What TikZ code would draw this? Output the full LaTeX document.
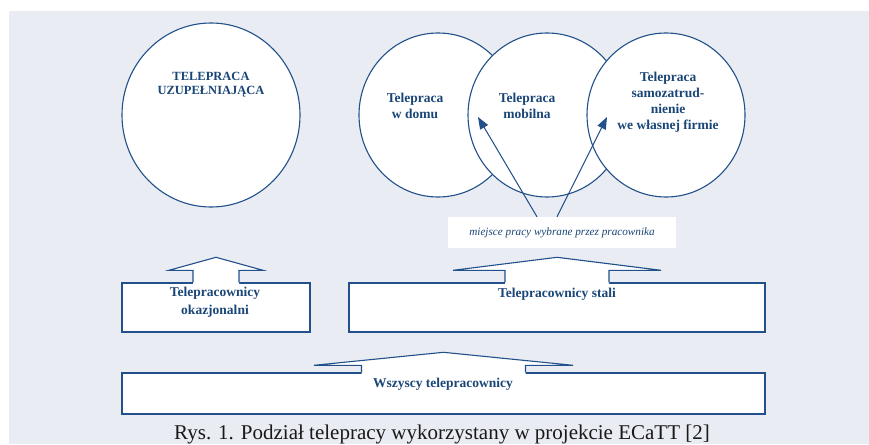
\documentclass[tikz,border=0pt]{standalone}
\usepackage{fontspec}
\setmainfont{Liberation Serif}
\usetikzlibrary{shapes.geometric,arrows.meta,calc}
\definecolor{bg}{HTML}{E9ECF2}
\definecolor{ln}{HTML}{21508A}
\definecolor{tx}{HTML}{1A4677}
\tikzset{
  circ/.style={ellipse, draw=ln, line width=1.1pt, fill=white, inner sep=0pt},
  btxt/.style={text=tx, font=\fontsize{13.5}{16}\selectfont\bfseries, align=center, inner sep=0pt},
  box/.style={draw=ln, line width=1.4pt, fill=white, inner sep=0pt},
  arrline/.style={draw=ln, line width=1.1pt, line join=miter},
  ptr/.style={draw=ln, line width=1pt, -{Triangle[length=12pt,width=9pt]}, fill=ln},
}
\newcommand\blkarrow[5]{%
  \fill[white] ($(#1.north)+(-#2,1.5)$) -- ($(#1.north)+(-#2,-#5)$) -- ($(#1.north)+(-#3,-#5)$)
    -- ($(#1.north)+(0,-#4)$) -- ($(#1.north)+(#3,-#5)$) -- ($(#1.north)+(#2,-#5)$)
    -- ($(#1.north)+(#2,1.5)$) -- cycle;
  \draw[arrline] ($(#1.north)+(-#2,0)$) -- ($(#1.north)+(-#2,-#5)$) -- ($(#1.north)+(-#3,-#5)$)
    -- ($(#1.north)+(0,-#4)$) -- ($(#1.north)+(#3,-#5)$) -- ($(#1.north)+(#2,-#5)$)
    -- ($(#1.north)+(#2,0)$);}
\begin{document}
\begin{tikzpicture}[x=1pt,y=-1pt]
\useasboundingbox (0,0) rectangle (869,444);
\fill[bg] (9,11) rectangle (869,444);

% circles
\node[circ, minimum width=178pt, minimum height=184pt] (c0) at (211,115) {};
\node[circ, minimum width=158pt, minimum height=164pt] (c1) at (438,115) {};
\node[circ, minimum width=158pt, minimum height=164pt] (c2) at (547,115) {};
\node[circ, minimum width=158pt, minimum height=164pt] (c3) at (666,115) {};

\node[btxt, font=\fontsize{12.5}{14}\selectfont\bfseries] (t0) at (211,85) {TELEPRACA\\UZUPEŁNIAJĄCA};
\node[btxt] (t1) at (415,106) {Telepraca\\w domu};
\node[btxt] (t2) at (527,106) {Telepraca\\mobilna};
\node[btxt] (t3) at (668,102) {Telepraca\\samozatrud-\\nienie\\we własnej firmie};

% label and pointers
\node[fill=white, minimum width=228pt, minimum height=31pt, inner sep=0pt, text=tx,
      font=\fontsize{11.2}{13}\selectfont\itshape] (lbl) at (562,232.5) {miejsce pracy wybrane przez pracownika};
\coordinate (h1) at (478,117);
\coordinate (h2) at (607,117);
\draw[ptr] ([xshift=-25pt]lbl.north) -- (h1);
\draw[ptr] ([xshift=-5pt]lbl.north) -- (h2);

% boxes
\node[box, minimum width=188pt, minimum height=49pt] (b1) at (216,307.5) {};
\node[box, minimum width=416pt, minimum height=49pt] (b2) at (557,307.5) {};
\node[box, minimum width=643pt, minimum height=41pt] (b3) at (443.5,393.5) {};

\blkarrow{b1}{23}{47}{25}{12}
\blkarrow{b2}{52}{104}{25}{12}
\blkarrow{b3}{82}{129.5}{20}{7}

\node[btxt, font=\fontsize{13.5}{18}\selectfont\bfseries] (bt1) at (215,302) {Telepracownicy\\okazjonalni};
\node[btxt] (bt2) at (557,294) {Telepracownicy stali};
\node[btxt] (bt3) at (443,384) {Wszyscy telepracownicy};

\node[font=\fontsize{21}{24}\selectfont, text=black!90, anchor=base, inner sep=0pt] (cap) at (442,439)
  {Rys. 1. Podział telepracy wykorzystany w projekcie ECaTT [2]};
\end{tikzpicture}
\end{document}
